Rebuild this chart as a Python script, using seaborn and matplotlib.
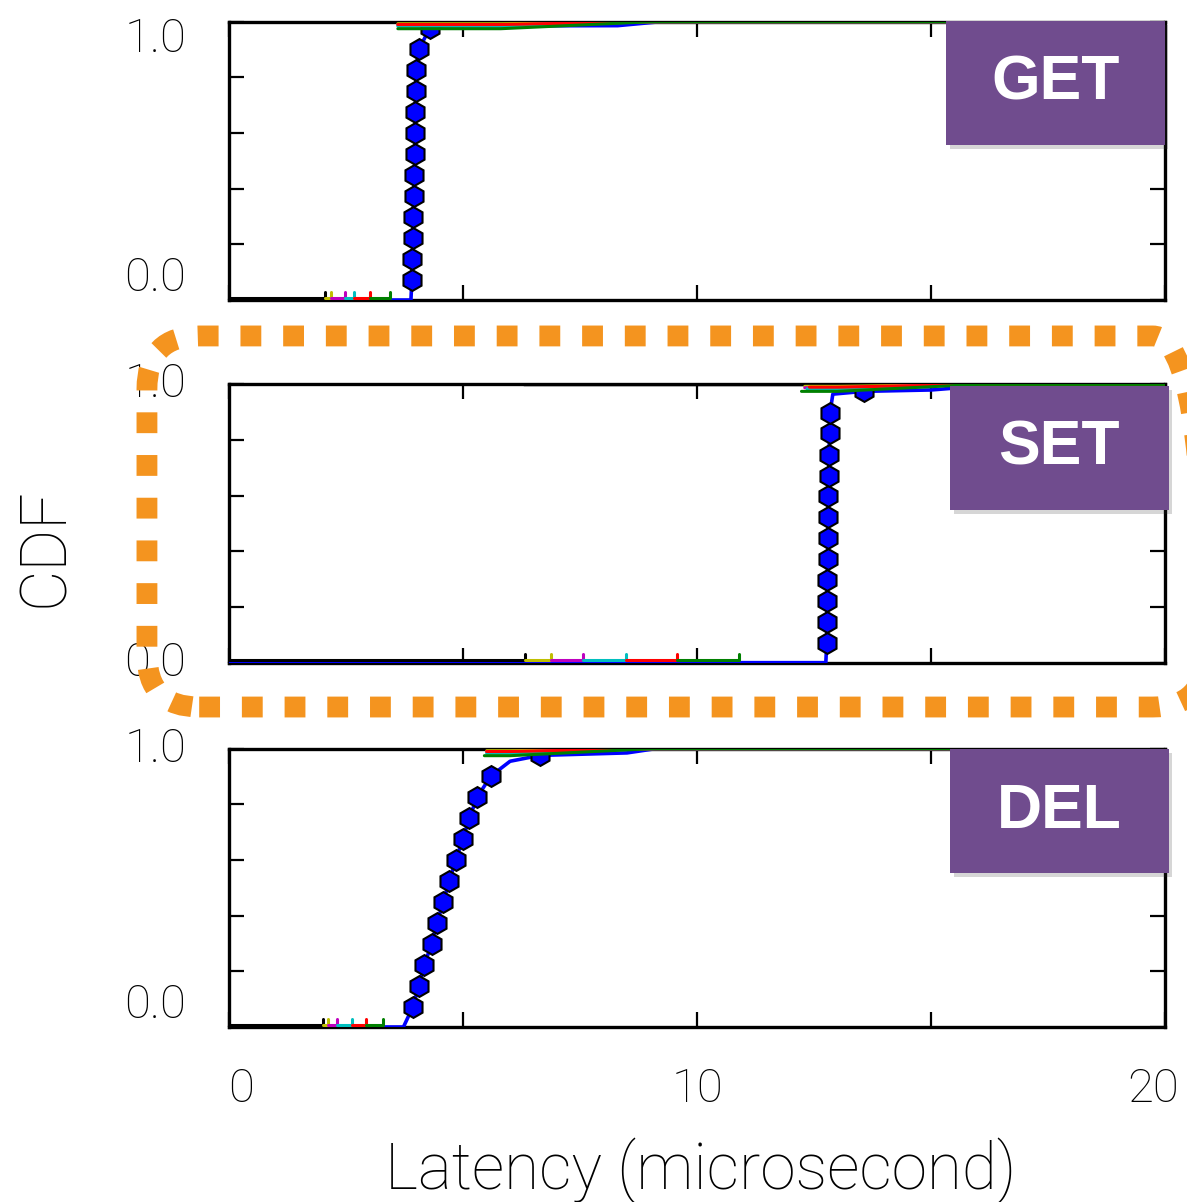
import matplotlib
matplotlib.use("Agg")
import matplotlib.pyplot as plt
import seaborn as sns
from matplotlib.patches import FancyBboxPatch
from matplotlib.transforms import ScaledTranslation

# ---- data (latency in microseconds, cumulative fraction) ----
OPS = ["GET", "SET", "DEL"]
MINOR_COLORS = ["k", "y", "m", "c", "r", "g"]

# latency where each minor series leaves zero
GET_STEPS = [2.05, 2.17, 2.46, 2.67, 3.01, 3.44]
SET_STEPS = [6.32, 6.88, 7.56, 8.48, 9.56, 10.89]
DEL_STEPS = [2.00, 2.11, 2.30, 2.61, 2.93, 3.29]

# where each minor series shows up again just under cdf = 1
GET_TOP_FROM = [2.05, 3.60, 3.60, 3.60, 3.60, 3.60]
SET_TOP_FROM = [6.30, 12.30, 12.30, 12.35, 12.40, 12.23]
DEL_TOP_FROM = [2.00, 5.50, 5.50, 5.50, 5.50, 5.45]
MINOR_TOP_CDF = [0.999, 0.993, 0.988, 0.984, 0.99, 0.975]
TOP_JOIN = [5.8, 13.0, 6.0]
TOP_DONE = [9.0, 16.0, 9.0]

# main (blue) series
GET_BLUE_LAT = [0.0, 3.88, 3.90, 3.91, 3.92, 3.92, 3.94, 3.95, 3.97, 3.97,
                3.97, 3.98, 3.99, 4.05, 4.29, 4.60, 8.30, 9.20, 20.0]
GET_BLUE_CDF = [0.0, 0.0, 0.072, 0.148, 0.223, 0.299, 0.374, 0.448, 0.524, 0.600,
                0.676, 0.751, 0.827, 0.902, 0.978, 0.985, 0.986, 1.0, 1.0]
GET_MARKS = list(range(2, 15))

SET_BLUE_LAT = [0.0, 12.75, 12.77, 12.77, 12.78, 12.78, 12.79, 12.79, 12.80, 12.80,
                12.81, 12.82, 12.83, 12.84, 12.90, 13.56, 15.0, 16.5, 20.0]
SET_BLUE_CDF = [0.0, 0.0, 0.070, 0.145, 0.222, 0.297, 0.372, 0.448, 0.522, 0.598,
                0.672, 0.748, 0.824, 0.898, 0.965, 0.975, 0.98, 1.0, 1.0]
SET_MARKS = list(range(2, 14)) + [15]

DEL_BLUE_LAT = [0.0, 3.72, 3.92, 4.05, 4.17, 4.32, 4.44, 4.57, 4.70, 4.84,
                4.99, 5.13, 5.30, 5.59, 6.00, 6.64, 8.50, 9.10, 20.0]
DEL_BLUE_CDF = [0.0, 0.0, 0.072, 0.148, 0.224, 0.299, 0.375, 0.449, 0.525, 0.601,
                0.676, 0.752, 0.827, 0.902, 0.955, 0.976, 0.985, 1.0, 1.0]
DEL_MARKS = list(range(2, 14)) + [15]

X_TICKS = [0, 5, 10, 15, 20]
X_LABELS = ["0", "", "10", "", "20"]
Y_TICKS = [0, 0.2, 0.4, 0.6, 0.8, 1.0]
Y_LABELS = ["0.0", "", "", "", "", "1.0"]

steps = [GET_STEPS, SET_STEPS, DEL_STEPS]
top_from = [GET_TOP_FROM, SET_TOP_FROM, DEL_TOP_FROM]
blue_lat = [GET_BLUE_LAT, SET_BLUE_LAT, DEL_BLUE_LAT]
blue_cdf = [GET_BLUE_CDF, SET_BLUE_CDF, DEL_BLUE_CDF]
marks = [GET_MARKS, SET_MARKS, DEL_MARKS]

# ---- layout ----
sns.set_style("white")
plt.rcParams["font.family"] = ["Roboto", "DejaVu Sans"]
plt.rcParams["font.weight"] = "light"
plt.rcParams["text.color"] = "black"

fig = plt.figure(figsize=(11.87, 12.02), dpi=100)
AX_LEFT, AX_W = 0.1933, 0.7881
AX_BOTTOMS = [0.7504, 0.4487, 0.1456]
AX_H = 0.2315
# vertical alignment of the 0.0 / 1.0 labels, per panel
Y_VA = [("bottom", "top"), ("center", "center"), ("bottom", "center")]
PURPLE = "#704C8E"
ORANGE = "#F4941F"

for p, op in enumerate(OPS):
    ax = fig.add_axes([AX_LEFT, AX_BOTTOMS[p], AX_W, AX_H])

    sns.lineplot(x=blue_lat[p], y=blue_cdf[p], color="b", lw=2.6, sort=False,
                 estimator=None, marker="h", markersize=15, markerfacecolor="b",
                 markeredgecolor="k", markeredgewidth=1.5, markevery=marks[p],
                 ax=ax, zorder=3)

    prev = 0.0
    for i, c in enumerate(MINOR_COLORS):
        s = steps[p][i]
        sns.lineplot(x=[prev, s, s], y=[0.008, 0.008, 0.03], color=c, lw=2.2,
                     sort=False, estimator=None, ax=ax, zorder=4)
        sns.lineplot(x=[top_from[p][i], TOP_JOIN[p], TOP_DONE[p], 20],
                     y=[MINOR_TOP_CDF[i], MINOR_TOP_CDF[i], 1.0, 1.0],
                     color=c, lw=2.2, sort=False, estimator=None, ax=ax, zorder=4)
        prev = s

    ax.set_xlim(0, 20)
    ax.set_ylim(0, 1)
    ax.set_xlabel("")
    ax.set_ylabel("")
    ax.set_xticks(X_TICKS)
    ax.set_xticklabels(X_LABELS if p == 2 else [""] * 5)
    ax.set_yticks(Y_TICKS)
    ax.set_yticklabels(Y_LABELS)
    ax.tick_params(direction="in", length=11, width=1.6, top=True, right=True,
                   bottom=True, left=True, labelsize=34, colors="k")
    ax.tick_params(axis="x", pad=29)
    ax.tick_params(axis="y", pad=31)
    for sp in ax.spines.values():
        sp.set_color("k")
        sp.set_linewidth(2.4)
    ylabs = ax.get_yticklabels()
    ylabs[0].set_va(Y_VA[p][0])
    ylabs[-1].set_va(Y_VA[p][1])
    if p == 0:
        ylabs[-1].set_transform(ylabs[-1].get_transform() + ScaledTranslation(0, 0.05, fig.dpi_scale_trans))
    if p == 2:
        xl = ax.get_xticklabels()
        xl[0].set_transform(xl[0].get_transform() + ScaledTranslation(0.12, 0, fig.dpi_scale_trans))
        xl[4].set_transform(xl[4].get_transform() + ScaledTranslation(-0.12, 0, fig.dpi_scale_trans))

# purple operation badges
BOX_X = [0.797, 0.8003, 0.8003]
BOX_Y = [0.8794, 0.5757, 0.2737]
BOX_W, BOX_H = 0.1842, 0.1030
for p, op in enumerate(OPS):
    shadow = FancyBboxPatch((BOX_X[p] + 0.003, BOX_Y[p] - 0.003), BOX_W, BOX_H,
                            boxstyle="square,pad=0", transform=fig.transFigure,
                            facecolor="#333333", edgecolor="none", alpha=0.2, zorder=5)
    box = FancyBboxPatch((BOX_X[p], BOX_Y[p]), BOX_W, BOX_H,
                         boxstyle="square,pad=0", transform=fig.transFigure,
                         facecolor=PURPLE, edgecolor="none", zorder=6)
    fig.patches.extend([shadow, box])
    fig.text(BOX_X[p] + BOX_W / 2, BOX_Y[p] + BOX_H / 2, op, color="white",
             fontsize=45, fontweight="bold", ha="center", va="center",
             family=["Liberation Sans", "DejaVu Sans"], zorder=7)

# orange dotted highlight around the SET panel
frame = FancyBboxPatch((0.1238, 0.4118), 0.8914, 0.3087,
                       boxstyle="round,pad=0,rounding_size=0.044",
                       transform=fig.transFigure, facecolor="none",
                       edgecolor=ORANGE, linewidth=15, linestyle=(0, (1, 1.05)),
                       capstyle="butt", zorder=8)
fig.patches.append(frame)

fig.text(0.038, 0.545, "CDF", rotation=90, fontsize=46, ha="center", va="center")
fig.text(0.59, 0.026, "Latency (microsecond)", fontsize=46, ha="center", va="center")

fig.savefig("out.png", dpi=100)
